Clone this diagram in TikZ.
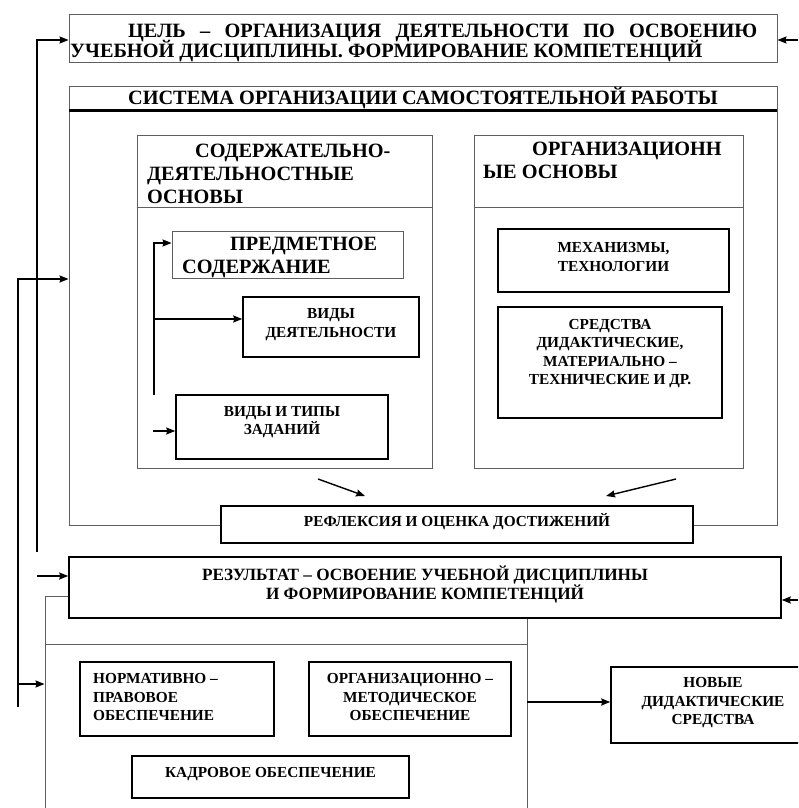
\documentclass[tikz,border=0pt]{standalone}
\usepackage{fontspec}
\setmainfont{Liberation Serif}
\usetikzlibrary{arrows.meta,positioning,calc}
\definecolor{framegrey}{RGB}{95,95,95}

\newcommand{\bigtxt}{\fontsize{20.3}{20}\selectfont\bfseries\lineskiplimit=-50pt}
\newcommand{\headtxt}{\fontsize{20.3}{23}\selectfont\bfseries\lineskiplimit=-50pt}
\newcommand{\smalltxt}{\fontsize{15.3}{18.5}\selectfont\bfseries\lineskiplimit=-50pt}
\newcommand{\restxt}{\fontsize{17.2}{19}\selectfont\bfseries\lineskiplimit=-50pt}

\begin{document}
\begin{tikzpicture}[x=1pt, y=-1pt,
    frame/.style={draw=framegrey, line width=0.9pt, fill=white, inner sep=0pt},
    box/.style={draw=black, line width=1.5pt, fill=white, inner sep=0pt},
    boxtext/.style={inner sep=0pt, align=center, font=\smalltxt},
    link/.style={->, line width=1.4pt},
    >={Stealth[length=9pt,width=7pt,inset=1pt]},
]
    \useasboundingbox (0,0) rectangle (798,808);
    \clip (0,0) rectangle (798,808);

    % goal
    \node[frame, minimum width=708pt, minimum height=48pt] (goal) at (423,38) {};
    \node[anchor=north west, inner sep=0pt, text width=687pt, align=justify, font=\bigtxt] (goaltext) at (70,23.5)
        {\hspace*{58pt}ЦЕЛЬ – ОРГАНИЗАЦИЯ ДЕЯТЕЛЬНОСТИ ПО ОСВОЕНИЮ\linebreak УЧЕБНОЙ ДИСЦИПЛИНЫ. ФОРМИРОВАНИЕ КОМПЕТЕНЦИЙ};

    % system of independent work
    \node[frame, minimum width=708pt, minimum height=439pt] (sys) at (423,305.5) {};
    \node[frame, minimum width=708pt, minimum height=24pt, font=\bigtxt] (systitle) at (423,98)
        {СИСТЕМА ОРГАНИЗАЦИИ САМОСТОЯТЕЛЬНОЙ РАБОТЫ};
    \draw[line width=2.4pt] (systitle.south west) -- (systitle.south east);

    % two columns
    \node[frame, minimum width=295pt, minimum height=333pt] (contentcol) at (284.5,301.5) {};
    \draw[framegrey, line width=0.9pt] (contentcol.west |- 0,207) -- (contentcol.east |- 0,207);
    \node[anchor=north west, inner sep=0pt, align=left, font=\headtxt] (contenthead) at (147,143.5)
        {\hspace*{48pt}СОДЕРЖАТЕЛЬНО-\\ДЕЯТЕЛЬНОСТНЫЕ\\ОСНОВЫ};

    \node[frame, minimum width=269pt, minimum height=333pt] (orgcol) at (608.5,301.5) {};
    \draw[framegrey, line width=0.9pt] (orgcol.west |- 0,207) -- (orgcol.east |- 0,207);
    \node[anchor=north west, inner sep=0pt, align=left, font=\headtxt] (orghead) at (483,141.5)
        {\hspace*{49pt}ОРГАНИЗАЦИОНН\\ЫЕ ОСНОВЫ};

    % left column content
    \node[frame, minimum width=231pt, minimum height=47pt] (subj) at (287.5,254.5) {};
    \node[anchor=north west, inner sep=0pt, align=left, font=\headtxt] (subjtext) at (182,236.5)
        {\hspace*{48pt}ПРЕДМЕТНОЕ\\СОДЕРЖАНИЕ};
    \node[box, minimum width=176pt, minimum height=60pt] (act) at (331,327) {};
    \node[boxtext] (acttext) at ([yshift=2.5pt]act.center) {ВИДЫ\\ДЕЯТЕЛЬНОСТИ};
    \node[box, minimum width=212pt, minimum height=64pt] (tasks) at (282,427) {};
    \node[boxtext] (taskstext) at ([yshift=5pt]tasks.center) {ВИДЫ И ТИПЫ\\ЗАДАНИЙ};

    % right column content
    \node[box, minimum width=231pt, minimum height=63pt] (mech) at (613.5,260.5) {};
    \node[boxtext] (mechtext) at ([yshift=3.5pt]mech.center) {МЕХАНИЗМЫ,\\ТЕХНОЛОГИИ};
    \node[box, minimum width=224pt, minimum height=111pt] (means) at (610,362.5) {};
    \node[boxtext] (meanstext) at ([yshift=9pt]means.center)
        {СРЕДСТВА\\ДИДАКТИЧЕСКИЕ,\\МАТЕРИАЛЬНО –\\ТЕХНИЧЕСКИЕ И ДР.};

    % reflexion
    \node[box, minimum width=472pt, minimum height=37pt] (reflex) at (457,524.5) {};
    \node[boxtext] (reflextext) at ([yshift=2.5pt]reflex.center) {РЕФЛЕКСИЯ И ОЦЕНКА ДОСТИЖЕНИЙ};

    % support
    \node[frame, minimum width=482pt, minimum height=234pt] (support) at (286,713) {};
    \draw[framegrey, line width=0.9pt] (support.west |- 0,644) -- (support.east |- 0,644);

    % result
    \node[box, minimum width=712pt, minimum height=61pt] (result) at (425,587.5) {};
    \node[boxtext, font=\restxt] (resulttext) at ([yshift=3pt]result.center)
        {РЕЗУЛЬТАТ – ОСВОЕНИЕ УЧЕБНОЙ ДИСЦИПЛИНЫ\\И ФОРМИРОВАНИЕ КОМПЕТЕНЦИЙ};

    \node[box, minimum width=194pt, minimum height=74pt] (norm) at (177,699) {};
    \node[boxtext, anchor=west, align=left] (normtext) at (93,697.5)
        {НОРМАТИВНО –\\ПРАВОВОЕ\\ОБЕСПЕЧЕНИЕ};
    \node[box, minimum width=202pt, minimum height=74pt] (orgmeth) at (410,699) {};
    \node[boxtext] (orgmethtext) at ([yshift=1.5pt]orgmeth.center)
        {ОРГАНИЗАЦИОННО –\\МЕТОДИЧЕСКОЕ\\ОБЕСПЕЧЕНИЕ};
    \node[box, minimum width=277pt, minimum height=42pt] (staff) at (270.5,777) {};
    \node[boxtext] (stafftext) at ([yshift=3pt]staff.center) {КАДРОВОЕ ОБЕСПЕЧЕНИЕ};
    \node[box, minimum width=204pt, minimum height=76pt] (newmeans) at (713,705) {};
    \node[boxtext] (newmeanstext) at ([yshift=2pt]newmeans.center)
        {НОВЫЕ\\ДИДАКТИЧЕСКИЕ\\СРЕДСТВА};

    % feedback lines
    \coordinate (goalfeed) at (37,552);
    \draw[link] (goalfeed) |- (goal.west |- 0,40);
    \coordinate (goalin) at (798,40);
    \draw[link] (goalin) -- (goal.east |- goalin);
    \coordinate (sysfeed) at (18,707);
    \draw[link] (sysfeed) |- (sys.west |- 0,279);
    \draw[link] (sysfeed |- 0,684) -- (support.west |- 0,684);
    \coordinate (resfeed) at (37,576);
    \draw[link] (resfeed) -- (result.west |- resfeed);
    \coordinate (resin) at (798,600);
    \draw[link] (resin) -- (result.east |- resin);

    % inside content column
    \coordinate (subjfork) at (154,395);
    \draw[link] (subjfork) |- ([yshift=11.5pt]subj.west);
    \draw[link] (subjfork |- 0,319) -- (act.west |- 0,319);
    \coordinate (taskfeed) at (153,431);
    \draw[link] (taskfeed) -- (tasks.west |- taskfeed);

    % towards reflexion
    \coordinate (leftfrom) at (318,479);
    \coordinate (leftto) at (365,496);
    \draw[link] (leftfrom) -- (leftto);
    \coordinate (rightfrom) at (676,479);
    \coordinate (rightto) at (606,496);
    \draw[link] (rightfrom) -- (rightto);

    \draw[link] (support.east |- 0,702) -- (newmeans.west |- 0,702);
\end{tikzpicture}
\end{document}
